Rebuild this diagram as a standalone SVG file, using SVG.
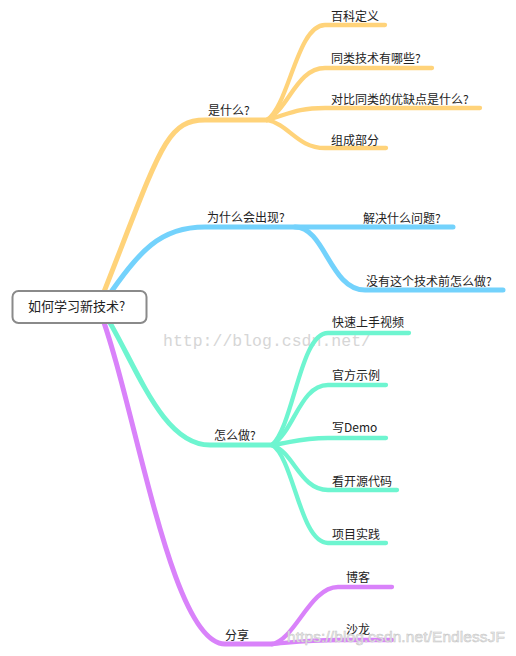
<svg xmlns="http://www.w3.org/2000/svg" width="516" height="656" viewBox="0 0 516 656">
<style>
.e{fill:none;stroke-linecap:round;stroke-linejoin:round}
.y{stroke:#FFD37A}
.b{stroke:#73D2FC}
.g{stroke:#6EF5D0}
.p{stroke:#D982FA}
.m{stroke-width:5}
.c{stroke-width:4.3}
text{font-family:"Noto Sans CJK SC","Noto Sans",sans-serif;font-size:12px;fill:#222}
.wm1{font-family:"Liberation Mono",monospace;font-size:16.5px;fill:#d6d6d6}
.wm2{font-family:"Liberation Sans",sans-serif;font-size:15.5px;fill:#ececec;stroke:#c4c4c4;stroke-width:0.5}
</style>
<rect width="516" height="656" fill="#fff"/>
<text class="wm1" x="163" y="346">http://blog.csdn.net/</text>
<g id="connectors">
<path class="e y m" d="M100 302 C160 150,165 120,205 120 L267 120"/>
<path class="e y c" d="M267 120 C289 106,297 25,325 25 L385 25"/>
<path class="e y c" d="M267 120 C289 108,297 68,325 68 L432 68"/>
<path class="e y c" d="M267 120 C289 114,297 108,325 108 L480 108"/>
<path class="e y c" d="M267 120 C289 124,297 148,325 148 L386 148"/>
<path class="e b m" d="M104 302 C140 250,160 227,205 227 L453 227"/>
<path class="e b m" d="M295 227 C325 227,330 290,365 290 L503 290"/>
<path class="e g m" d="M100 306 C135 360,160 445,210 445 L272 445"/>
<path class="e g c" d="M272 445 C294 425,300 333,328 333 L409 333"/>
<path class="e g c" d="M272 445 C294 432,300 385,328 385 L386 385"/>
<path class="e g c" d="M272 445 C294 442,300 438,328 438 L386 438"/>
<path class="e g c" d="M272 445 C294 452,300 490,328 490 L397 490"/>
<path class="e g c" d="M272 445 C294 458,300 543,328 543 L386 543"/>
<path class="e p m" d="M98 306 C135 400,170 644,225 644 L272 644"/>
<path class="e p c" d="M272 644 C295 640,310 587,338 587 L392 587"/>
<path class="e p c" d="M272 644 C295 642,310 640,338 640 L392 640"/>
</g>
<g id="root">
<rect x="12.5" y="291" width="134" height="32" rx="6" ry="6" fill="#fff" stroke="#8a8a8a" stroke-width="2"/>
<text x="28" y="311" style="font-size:13px">如何学习新技术?</text>
</g>
<g id="n-what"><text x="208" y="115">是什么?</text></g>
<g id="n-what-1"><text x="331" y="21">百科定义</text></g>
<g id="n-what-2"><text x="331" y="63">同类技术有哪些?</text></g>
<g id="n-what-3"><text x="331" y="104">对比同类的优缺点是什么?</text></g>
<g id="n-what-4"><text x="331" y="145">组成部分</text></g>
<g id="n-why"><text x="207" y="222">为什么会出现?</text></g>
<g id="n-why-1"><text x="363" y="223">解决什么问题?</text></g>
<g id="n-why-2"><text x="366" y="286">没有这个技术前怎么做?</text></g>
<g id="n-how"><text x="214" y="440">怎么做?</text></g>
<g id="n-how-1"><text x="332" y="327">快速上手视频</text></g>
<g id="n-how-2"><text x="332" y="380">官方示例</text></g>
<g id="n-how-3"><text x="332" y="432">写Demo</text></g>
<g id="n-how-4"><text x="332" y="486">看开源代码</text></g>
<g id="n-how-5"><text x="332" y="539">项目实践</text></g>
<g id="n-share"><text x="225" y="640">分享</text></g>
<g id="n-share-1"><text x="346" y="582">博客</text></g>
<g id="n-share-2"><text x="346" y="634">沙龙</text></g>
<text class="wm2" x="287" y="642" textLength="218">https://blog.csdn.net/EndlessJF</text>
</svg>
